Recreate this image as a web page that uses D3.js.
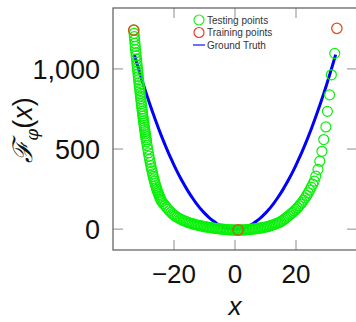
<!DOCTYPE html>
<html>
<head>
<meta charset="utf-8">
<script src="https://cdn.jsdelivr.net/npm/d3@7"></script>
<style>
  body { margin: 0; background: #fff; }
  svg { display: block; }
</style>
</head>
<body>
<div id="chart"></div>
<script>
// Testing points (x, value)
const testX = [
  -33.2, -33.1, -33.0, -32.9, -32.8, -32.7, -32.6, -32.5, -32.4, -32.3, -32.2, -32.1, -32.0,
  -31.9, -31.8, -31.7, -31.6, -31.5, -31.4, -31.3, -31.2, -31.1, -31.0, -30.9, -30.8, -30.7,
  -30.6, -30.5, -30.4, -30.3, -30.2, -30.1, -30.0, -29.9, -29.8, -29.7, -29.6, -29.5, -29.4,
  -29.3, -29.2, -29.1, -29.0,
  -28.8, -28.6, -28.4, -28.2, -28.0, -27.8, -27.6, -27.4, -27.2, -27.0, -26.8, -26.6, -26.4,
  -26.2, -26.0, -25.8, -25.6, -25.4, -25.2, -25.0, -24.8, -24.6, -24.4, -24.2, -24.0,
  -23.5, -23, -22.5, -22, -21.5, -21, -20.5, -20, -19.5, -19, -18.5, -18, -17.5, -17, -16.5,
  -16, -15.5, -15, -14.5, -14, -13.5, -13, -12.5, -12, -11.5, -11, -10.5, -10, -9.5, -9, -8.5,
  -8, -7.5, -7, -6.5, -6, -5.5, -5, -4.5, -4, -3.5, -3, -2.5, -2, -1.5, -1, -0.5, 0, 0.5, 1,
  1.5, 2, 2.5, 3, 3.5, 4, 4.5, 5, 5.5, 6, 6.5, 7, 7.5, 8, 8.5, 9, 9.5, 10, 10.5, 11, 11.5, 12,
  12.5, 13, 13.5, 14, 14.5, 15, 15.5, 16, 16.5, 17, 17.5, 18, 18.5, 19, 19.5, 20, 20.5, 21,
  21.5, 22, 22.5, 23, 23.5, 24, 24.5, 25, 25.5, 26,
  26.5, 27.2, 27.8, 28.5, 29.1, 29.8, 30.3, 31.0, 31.6, 32.7
];
const testY = [
  1242, 1222, 1201, 1181, 1160, 1140, 1120, 1100, 1081, 1062, 1043, 1024, 1005,
  987, 969, 951, 933, 915, 898, 881, 864, 847, 830, 814, 798, 782,
  766, 750, 735, 720, 705, 690, 676, 662, 648, 635, 621, 608, 595,
  582, 570, 557, 545,
  522, 499, 476, 455, 435, 416, 397, 379, 362, 345, 329, 313, 299,
  285, 272, 260, 248, 236, 225, 215, 206, 197, 188, 180, 172,
  160, 150, 137, 125, 115, 105, 96, 88, 81, 75, 69, 64, 59, 55, 51,
  47, 43, 40, 37, 34, 31, 29, 26, 24, 22, 20, 18, 16, 14, 13, 11,
  10, 8, 7, 5, 4, 3, 2, 1, 0, -1, -2, -3, -4, -4, -5, -5, -6, -6, -6,
  -6, -5, -5, -4, -4, -3, -2, -1, 0, 1, 2, 3, 5, 6, 8, 9, 11, 13, 15, 18, 21, 24,
  27, 30, 34, 38, 42, 47, 53, 60, 67, 75, 82, 90, 98, 106, 115, 124, 134, 145,
  156, 168, 181, 195, 210, 226, 243, 262, 281, 300,
  331, 373, 424, 486, 559, 638, 735, 838, 963, 1097
];

// Training points
const trainX = [-33.2, 1.0, 33.4];
const trainY = [1242, -5, 1253];

// Ground truth
const truthX = d3.range(-33, 34);
const truthY = [
  1089, 1024, 961, 900, 841, 784, 729, 676, 625, 576, 529, 484, 441, 400, 361, 324, 289,
  256, 225, 196, 169, 144, 121, 100, 81, 64, 49, 36, 25, 16, 9, 4, 1, 0,
  1, 4, 9, 16, 25, 36, 49, 64, 81, 100, 121, 144, 169, 196, 225, 256, 289, 324, 361,
  400, 441, 484, 529, 576, 625, 676, 729, 784, 841, 900, 961, 1024, 1089
];

const xTicks = [-20, 0, 20];
const yTicks = [0, 500, 1000];
const legendLabels = ["Testing points", "Training points", "Ground Truth"];

const W = 356, H = 322;
const box = { left: 113, right: 357, top: 8, bottom: 250 };

const svg = d3.select("#chart").append("svg")
    .attr("width", W)
    .attr("height", H);

const x = d3.scaleLinear().domain([-40, 40]).range([box.left, box.right]);
const y = d3.scaleLinear().domain([-130, 1380]).range([box.bottom, box.top]);

const font = "'Liberation Sans', Arial, sans-serif";
const tickCol = "#a8a8a8";

// inner ticks on all four sides
const tk = svg.append("g").attr("stroke", tickCol).attr("stroke-width", 1.3);
xTicks.forEach(t => {
    tk.append("line").attr("x1", x(t)).attr("x2", x(t)).attr("y1", box.bottom).attr("y2", box.bottom - 10);
    tk.append("line").attr("x1", x(t)).attr("x2", x(t)).attr("y1", box.top).attr("y2", box.top + 10);
});
yTicks.forEach(t => {
    tk.append("line").attr("x1", box.left).attr("x2", box.left + 10).attr("y1", y(t)).attr("y2", y(t));
    tk.append("line").attr("x1", box.right).attr("x2", box.right - 10).attr("y1", y(t)).attr("y2", y(t));
});

// ground truth line
const truth = truthX.map((v, i) => [v, truthY[i]]);
svg.append("path")
    .datum(truth)
    .attr("fill", "none")
    .attr("stroke", "#0000ff")
    .attr("stroke-width", 3)
    .attr("d", d3.line().x(d => x(d[0])).y(d => y(d[1])).curve(d3.curveCatmullRom));

// testing points
svg.append("g").selectAll("circle")
    .data(testX.map((v, i) => [v, testY[i]]))
    .enter().append("circle")
    .attr("cx", d => x(d[0]))
    .attr("cy", d => y(d[1]))
    .attr("r", 5)
    .attr("fill", "none")
    .attr("stroke", "#0af00a")
    .attr("stroke-width", 1.2);

// training points
svg.append("g").selectAll("circle")
    .data(trainX.map((v, i) => [v, trainY[i]]))
    .enter().append("circle")
    .attr("cx", d => x(d[0]))
    .attr("cy", d => y(d[1]))
    .attr("r", 5.2)
    .attr("fill", "none")
    .attr("stroke", "#d9501c")
    .attr("stroke-width", 1.3);

// frame
svg.append("rect")
    .attr("x", box.left).attr("y", box.top)
    .attr("width", box.right - box.left).attr("height", box.bottom - box.top)
    .attr("fill", "none").attr("stroke", "#5a5a5a").attr("stroke-width", 1.2);

// tick labels
svg.append("g").selectAll("text")
    .data(xTicks).enter().append("text")
    .attr("x", d => x(d))
    .attr("y", 283)
    .attr("text-anchor", "middle")
    .style("font-family", font).style("font-size", "26px").style("fill", "#111")
    .text(d => d < 0 ? "\u2212" + Math.abs(d) : d);

svg.append("g").selectAll("text")
    .data(yTicks).enter().append("text")
    .attr("x", 100)
    .attr("y", d => y(d) + 10)
    .attr("text-anchor", "end")
    .style("font-family", font).style("font-size", "27px").style("fill", "#111")
    .text(d => d3.format(",")(d));

// axis labels
svg.append("text")
    .attr("x", x(0))
    .attr("y", 315)
    .attr("text-anchor", "middle")
    .style("font-family", font).style("font-size", "26px").style("font-style", "italic").style("fill", "#111")
    .text("x");

const yl = svg.append("text")
    .attr("transform", "translate(32,130) rotate(-90)")
    .attr("text-anchor", "middle")
    .style("font-family", font).style("font-size", "27px").style("fill", "#111");
yl.append("tspan").style("font-family", "'DejaVu Serif', serif").style("font-style", "italic").text("\u2131");
yl.append("tspan").attr("dy", 6).style("font-size", "17px").style("font-family", "'DejaVu Serif', serif").style("font-style", "italic").text("\u03c6");
yl.append("tspan").attr("dy", -6).text("(");
yl.append("tspan").style("font-style", "italic").text("x");
yl.append("tspan").text(")");

// legend
const lg = svg.append("g");
const legColors = ["#22ee22", "#ee3a30", "#4a4aff"];
legendLabels.forEach((lab, i) => {
    const ly = 20 + i * 12.5;
    if (i < 2) {
        lg.append("circle").attr("cx", 199).attr("cy", ly).attr("r", 5)
            .attr("fill", "none").attr("stroke", legColors[i]).attr("stroke-width", 1.2);
    } else {
        lg.append("line").attr("x1", 193).attr("x2", 205).attr("y1", ly).attr("y2", ly)
            .attr("stroke", legColors[i]).attr("stroke-width", 1.6);
    }
    lg.append("text").attr("x", 207).attr("y", ly + 3.6)
        .style("font-family", font).style("font-size", "10px").style("fill", "#333")
        .text(lab);
});
</script>
</body>
</html>
